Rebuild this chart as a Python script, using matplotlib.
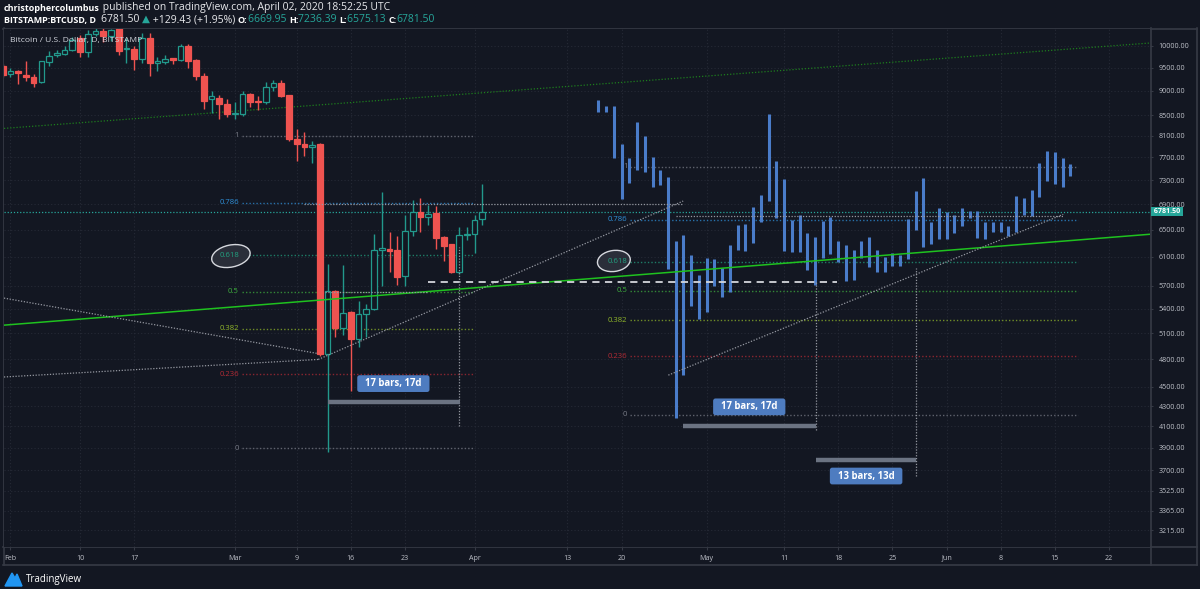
import matplotlib
matplotlib.use("Agg")
import matplotlib.pyplot as plt
import matplotlib.dates as mdates
import matplotlib.transforms as mtransforms
from matplotlib.patches import Ellipse, Polygon
import numpy as np
import pandas as pd

plt.rcParams["font.family"] = ["Open Sans", "DejaVu Sans"]

# ---- data ----
candle_start = "2020-01-31"
c_open = [9530, 9360, 9420, 9337, 9300, 9175, 9620, 9780, 9810, 9910,
          10180, 9850, 10280, 10360, 10220, 10420, 9920, 9930, 9700, 10190,
          9610, 9620, 9710, 9665, 9985, 9680, 9310, 8820, 8850, 8720,
          8520, 8520, 8930, 8775, 8760, 9080, 9170, 8910, 8040, 7950,
          7880, 7950, 4860, 5630, 5160, 5360, 5030, 5330, 5400, 6190,
          6210, 6190, 5830, 6480, 6770, 6690, 6755, 6390, 6280, 5880,
          6415, 6430, 6669.95]
c_high = [9580, 9490, 9440, 9643, 9360, 9650, 9877, 9910, 9985, 10200,
          10260, 10380, 10480, 10500, 10400, 10430, 10180, 9985, 10300, 10300,
          9730, 9790, 9715, 10045, 10040, 9700, 9380, 8990, 8910, 8820,
          8760, 9000, 8945, 8890, 9190, 9235, 9235, 8920, 8220, 8175,
          8000, 7960, 6000, 5640, 5982, 5370, 5500, 5460, 6440, 7100,
          6470, 6410, 6726, 6966, 7000, 6885, 6870, 6400, 6290, 6535,
          6535, 6726, 7236.39]
c_low = [9300, 9290, 9140, 9213, 9080, 9170, 9536, 9730, 9778, 9877,
         9730, 9730, 10230, 10090, 10120, 9790, 9600, 9450, 9600, 9310,
         9420, 9580, 9580, 9640, 9490, 9235, 8630, 8540, 8430, 8460,
         8430, 8490, 8660, 8600, 8720, 8990, 8860, 8000, 7640, 7730,
         7590, 4830, 3860, 5060, 5077, 4450, 4940, 5060, 5383, 5690,
         5890, 5708, 5690, 6400, 6470, 6570, 6205, 6040, 5870, 5860,
         6343, 6150, 6575.13]
c_close = [9345, 9420, 9370, 9295, 9160, 9643, 9770, 9830, 9910, 10140,
           9850, 10280, 10360, 10220, 10380, 9880, 9935, 9700, 10190, 9600,
           9650, 9700, 9670, 9985, 9655, 9310, 8780, 8880, 8720, 8530,
           8530, 8930, 8765, 8760, 9080, 9170, 8890, 8040, 7940, 7880,
           7930, 4860, 5630, 5160, 5350, 5030, 5330, 5400, 6190, 6225,
           6180, 5820, 6480, 6770, 6690, 6745, 6380, 6250, 5880, 6420,
           6425, 6650, 6781.50]

# projected bars pattern (high / low)
pattern_start = "2020-04-17"
p_high = [8805, 8690, 8690, 7943, 7687, 8355, 8099, 7704, 7473, 7358,
          6324, 6418, 6124, 5843, 6085, 6062, 5941, 6276, 6565, 6585,
          6858, 7048, 8515, 7638, 7312, 6647, 6726, 6444, 6391, 6636,
          6700, 6328, 6276, 6196, 6328, 6391, 6196, 6100, 6150, 6124,
          6658, 7119, 7344, 6620, 6834, 6780, 6726, 6843, 6790, 6790,
          6620, 6620, 6620, 6555, 7031, 6994, 7140, 7606, 7814, 7790,
          7694, 7580]
p_low = [8568, 8556, 7690, 6980, 7244, 7473, 7443, 7187, 7215, 5926,
         4184, 4623, 5438, 5271, 5355, 5698, 5545, 5619, 6196, 6181,
         6305, 6612, 6950, 6673, 6186, 6163, 6172, 5912, 5708, 6086,
         6139, 6027, 5765, 5775, 6077, 5958, 5888, 5888, 5968, 5972,
         6067, 6493, 6237, 6284, 6358, 6358, 6455, 6555, 6683, 6378,
         6358, 6462, 6462, 6407, 6463, 6726, 6715, 7014, 7287, 7240,
         7187, 7378]

last_price = 6781.50

price_ticks = [10000, 9500, 9000, 8500, 8100, 7700, 7300, 6900, 6500, 6100,
               5700, 5400, 5100, 4800, 4500, 4300, 4100, 3900, 3700, 3525,
               3365, 3215]
date_ticks = ["2020-02-01", "2020-02-10", "2020-02-17", "2020-03-01", "2020-03-09",
              "2020-03-16", "2020-03-23", "2020-04-01", "2020-04-13", "2020-04-20",
              "2020-05-01", "2020-05-11", "2020-05-18", "2020-05-25", "2020-06-01",
              "2020-06-08", "2020-06-15", "2020-06-22"]
date_labels = ["Feb", "10", "17", "Mar", "9", "16", "23", "Apr", "13", "20",
               "May", "11", "18", "25", "Jun", "8", "15", "22"]

fib_ratios = [1, 0.786, 0.618, 0.5, 0.382, 0.236, 0]
fib_names = ["1", "0.786", "0.618", "0.5", "0.382", "0.236", "0"]
fib_colors = ["#787b86", "#2f8fd8", "#22a07f", "#3faf3f", "#8fb52a", "#b22b35", "#787b86"]
fib_left = dict(low=3897, high=8099, start="2020-03-01 21:30", end="2020-03-31 19:00")
fib_right = dict(low=4213, high=7530, start="2020-04-21 02:30", end="2020-06-18 00:00")

# drawings: (start date, start price, end date, end price)
green_trend = ("2020-01-31 04:00", 5197, "2020-06-27 07:00", 6430)
upper_trend = ("2020-01-31 04:00", 8239, "2020-06-27 07:00", 10063)
gray_lines = [("2020-01-31 04:00", 5537, "2020-03-11 19:00", 4862),
              ("2020-01-31 04:00", 4603, "2020-03-11 19:00", 4796),
              ("2020-03-11 19:00", 4796, "2020-04-27 23:00", 6950),
              ("2020-04-26 01:00", 4623, "2020-06-16 02:00", 6737),
              ("2020-03-09 23:00", 6896, "2020-04-27 23:00", 6896),
              ("2020-04-27 00:00", 6718, "2020-06-16 01:00", 6718),
              ("2020-03-12 16:00", 5620, "2020-03-25 23:00", 5620)]
dashed_level = ("2020-03-26 00:00", 5744, "2020-05-17 19:00", 5744)
range_verticals = [("2020-03-30 00:00", 4100, 6243),
                   ("2020-05-15 02:30", 4064, 5750),
                   ("2020-05-28 01:00", 3650, 5940)]
range_bars = [("2020-03-13 02:30", "2020-03-30 02:30", 4343),
              ("2020-04-27 21:30", "2020-05-15 02:30", 4107),
              ("2020-05-15 02:30", "2020-05-28 01:00", 3794)]
range_labels = [("2020-03-21 12:00", 4532, "17 bars, 17d"),
                ("2020-05-06 12:00", 4292, "17 bars, 17d"),
                ("2020-05-21 14:30", 3650, "13 bars, 13d")]
ellipses = [("2020-02-29 12:00", 6110, 39, 22, 12),
            ("2020-04-19 00:00", 6040, 33, 21, 8)]

# ---- style ----
BG = "#131722"
GRID = "#262a36"
FRAME = "#363a45"
TEXT = "#bfc2ca"
TEAL = "#22998c"
RED = "#ef5350"
BLUE = "#4a7cc9"
GRAYLINE = "#9598a1"
AX_FS = 5.1


def dn(s):
    return mdates.date2num(pd.Timestamp(s))


fig = plt.figure(figsize=(12, 5.89), dpi=100, facecolor=BG)

# full-figure layer for frame, header and logo (pixel coordinates)
hax = fig.add_axes([0, 0, 1, 1])
hax.set_xlim(0, 1200)
hax.set_ylim(589, 0)
hax.axis("off")
for (x0, y0, x1, y1) in [(3, 28.5, 1197, 28.5), (3, 565, 1197, 565), (3.5, 28, 3.5, 565),
                         (1196.5, 28, 1196.5, 565), (1150.5, 28, 1150.5, 565), (3, 547, 1197, 547)]:
    hax.plot([x0, x1], [y0, y1], color=FRAME, lw=1.2)

# header
bold_fs, norm_fs = 6.5, 7.5
t = hax.text(4, 11, "christophercolumbus", color="white", weight="bold", fontsize=bold_fs,
             va="baseline")
hax.annotate(" published on TradingView.com, April 02, 2020 18:52:25 UTC", xy=(1, 0),
             xycoords=t, va="bottom", color="#e8e9ec", fontsize=norm_fs)
parts = [("BITSTAMP:BTCUSD, D  ", "white", "bold"), ("6781.50 ", "#e8e9ec", "normal"),
         ("▲", "#26a69a", "normal"), (" +129.43 (+1.95%) ", "#e8e9ec", "normal"),
         ("O:", "white", "bold"), ("6669.95 ", "#26a69a", "normal"),
         ("H:", "white", "bold"), ("7236.39 ", "#26a69a", "normal"),
         ("L:", "white", "bold"), ("6575.13 ", "#26a69a", "normal"),
         ("C:", "white", "bold"), ("6781.50", "#26a69a", "normal")]
prev = None
for txt, col, wt in parts:
    fs = bold_fs if wt == "bold" else norm_fs
    if prev is None:
        prev = hax.text(4, 23, txt, color=col, weight=wt, fontsize=fs, va="baseline")
    else:
        prev = hax.annotate(txt, xy=(1, 0), xycoords=prev, va="bottom", color=col,
                            weight=wt, fontsize=fs)

# logo
hax.add_patch(Polygon([[5, 586], [12, 573], [15, 578], [17, 574], [22, 586]],
                      closed=True, color="#2196f3"))
hax.text(26, 579.5, "TradingView", color="white", fontsize=7, va="center")

# ---- main chart ----
ax = fig.add_axes([4 / 1200, 1 - 547 / 589, 1146 / 1200, 518 / 589])
ax.set_facecolor(BG)
ax.set_yscale("log")
for s in ax.spines.values():
    s.set_visible(False)

x_min = dn("2020-02-01") - 0.83
x_max = dn("2020-02-01") + 147.3

# candles
cd = mdates.date2num(pd.date_range(candle_start, periods=len(c_open), freq="D"))
o = np.array(c_open, float)
h = np.array(c_high, float)
l = np.array(c_low, float)
c = np.array(c_close, float)
up = c >= o
edge = [TEAL if u else RED for u in up]
face = [BG if u else RED for u in up]
lo = np.minimum(o, c)
hgt = np.maximum(np.abs(c - o), lo * 0.002)
ax.vlines(cd, l, h, colors=edge, lw=1, zorder=3)
ax.bar(cd, hgt, bottom=lo, width=0.74, color=face, edgecolor=edge, linewidth=0.9, zorder=4)

# bars pattern
bd = mdates.date2num(pd.date_range(pattern_start, periods=len(p_high), freq="D"))
ax.vlines(bd, p_low, p_high, colors=BLUE, lw=2.2, zorder=4)

# fibonacci retracements (log-scaled)
for fib in (fib_left, fib_right):
    lnl, lnh = np.log(fib["low"]), np.log(fib["high"])
    for r, name, col in zip(fib_ratios, fib_names, fib_colors):
        lvl = np.exp(lnl + r * (lnh - lnl))
        ax.plot([dn(fib["start"]), dn(fib["end"])], [lvl, lvl], color=col, lw=1,
                ls=(0, (1, 1.5)), alpha=0.75, zorder=2)
        ax.annotate(name, xy=(dn(fib["start"]), lvl), xytext=(-2, 0),
                    textcoords="offset points", ha="right", va="center",
                    color=col, fontsize=5.6, zorder=8)

# ellipses around 0.618
for d, p, w, hh, ang in ellipses:
    tr = (mtransforms.Affine2D().scale(w / 2, hh / 2).rotate_deg(ang)
          + mtransforms.ScaledTranslation(dn(d), p, ax.transData))
    ax.add_patch(Ellipse((0, 0), 2, 2, transform=tr, facecolor="#2a2e39",
                         edgecolor="#d6d8de", lw=1, zorder=7))

# trend lines
d0, p0, d1, p1 = green_trend
ax.plot([dn(d0), dn(d1)], [p0, p1], color="#1fc21f", lw=1.1, zorder=5)
d0, p0, d1, p1 = upper_trend
ax.plot([dn(d0), dn(d1)], [p0, p1], color="#1d7d1d", lw=0.9, ls=(0, (1, 1.5)), zorder=2)
for d0, p0, d1, p1 in gray_lines:
    ax.plot([dn(d0), dn(d1)], [p0, p1], color=GRAYLINE, lw=0.9, ls=(0, (1, 1.3)), zorder=5)
d0, p0, d1, p1 = dashed_level
ax.plot([dn(d0), dn(d1)], [p0, p1], color="#d4d6dc", lw=1.3, ls=(0, (4, 3)), zorder=5)

# last price line
ax.axhline(last_price, color="#26a69a", lw=0.9, ls=(0, (1, 1.5)), zorder=2)

# date ranges
for d, plo, phi in range_verticals:
    ax.plot([dn(d), dn(d)], [plo, phi], color=GRAYLINE, lw=0.9, ls=(0, (1, 1.3)), zorder=5)
for d0, d1, p in range_bars:
    ax.plot([dn(d0), dn(d1)], [p, p], color="#6b7382", lw=3.2, solid_capstyle="butt", zorder=6)
for d, p, txt in range_labels:
    ax.text(dn(d), p, f"  {txt}  ", ha="center", va="center", color="white", fontsize=6.9,
            weight="bold", zorder=9,
            bbox=dict(boxstyle="round,pad=0.3,rounding_size=0.25", fc="#4e7cc0", ec="none"))

# price label on the axis
blend = mtransforms.blended_transform_factory(ax.transAxes, ax.transData)
ax.annotate(f" {last_price:.2f} ", xy=(1, last_price), xycoords=blend, xytext=(1.4, 0),
            textcoords="offset points", ha="left", va="center", color="white",
            fontsize=AX_FS, weight="bold", zorder=20, annotation_clip=False,
            bbox=dict(boxstyle="square,pad=0.1", fc="#26a69a", ec="none"))

# legend text
ax.text(0.005, 0.977, "Bitcoin / U.S. Dollar, D, BITSTAMP", transform=ax.transAxes,
        color="#d1d4dc", fontsize=6.1, va="center", ha="left", zorder=15)

# axes
ax.set_xlim(x_min, x_max)
ax.set_ylim(3091, 10399)
ax.yaxis.tick_right()
ax.yaxis.set_minor_locator(matplotlib.ticker.NullLocator())
ax.set_yticks(price_ticks)
ax.set_yticklabels([f"{v:.2f}" for v in price_ticks])
ax.set_xticks([dn(s) for s in date_ticks])
ax.set_xticklabels(date_labels)
ax.tick_params(axis="both", colors=FRAME, labelcolor=TEXT, labelsize=AX_FS, length=2.5, width=0.8)
ax.tick_params(axis="y", pad=3.5)
ax.tick_params(axis="x", pad=3)
ax.grid(True, color=GRID, lw=0.8, ls=(0, (1, 2)), zorder=0)
ax.set_axisbelow(True)

fig.savefig("out.png", dpi=100, facecolor=BG)
